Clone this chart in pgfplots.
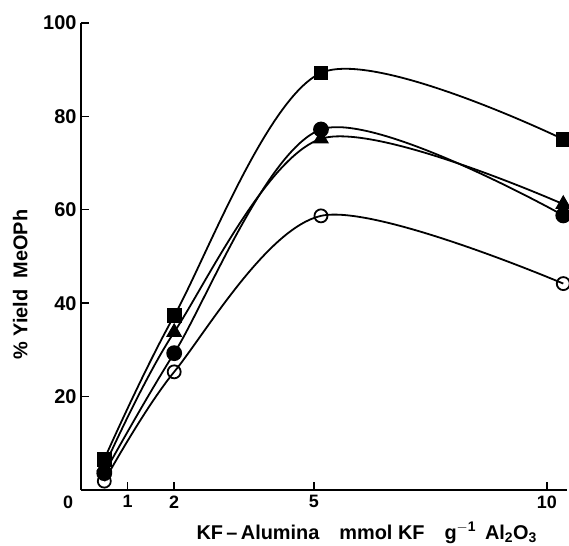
\documentclass[border=0pt]{standalone}
\usepackage{fontspec}
\setmainfont{Liberation Sans}
\usepackage{pgfplots}
\pgfplotsset{compat=1.18}
\begin{document}
\begin{tikzpicture}
\begin{axis}[
  scale only axis,
  width=486bp, height=467bp,
  xmin=0, xmax=10.43, ymin=0, ymax=100,
  axis lines=left,
  axis line style={-, line width=1.6bp},
  xtick={1,2,5,10},
  ytick={20,40,60,80,100},
  extra x ticks={0},
  extra x tick style={major tick length=0pt, tick label style={xshift=-13bp}},
  tick align=inside,
  major tick length=8bp,
  tick style={line width=1.4bp, black},
  /pgf/number format/assume math mode=true,
  xticklabel style={font=\fontsize{18}{20}\selectfont\bfseries, yshift=-2bp},
  yticklabel style={font=\fontsize{20}{22}\selectfont\bfseries, xshift=-1bp},
  xlabel={KF\,--\,Alumina\quad mmol KF\quad g$^{\mathbf{-1}}$\, Al$_{\mathbf 2}$O$_{\mathbf 3}$},
  ylabel={\% Yield\ \ MeOPh},
  xlabel style={font=\fontsize{20}{22}\selectfont\bfseries, at={(axis description cs:0.588,-0.092)}, anchor=center},
  ylabel style={font=\fontsize{20}{22}\selectfont\bfseries, at={(axis description cs:-0.125,0.44)}, anchor=center},
  clip=false,
  every axis plot/.append style={black, line width=1.8bp, smooth, tension=0.5},
]
\coordinate (sw) at (rel axis cs:0,0);
\coordinate (ne) at (rel axis cs:1,1);
\addplot[mark=square*, mark size=6.5bp, mark options={solid, fill=black}] coordinates {
  (0.5,6.6) (2,37.3) (5.15,89.3) (10.35,75.1)};
\addplot[mark=triangle*, mark size=7.5bp, mark options={solid, fill=black}] coordinates {
  (0.5,5.0) (2,33.8) (5.15,75.2) (10.35,61.2)};
\addplot[mark=*, mark size=7bp, mark options={solid, fill=black}] coordinates {
  (0.5,3.6) (2,29.3) (5.15,77.2) (10.35,58.8)};
\addplot[mark=o, mark size=6.5bp, mark options={solid, fill=white, line width=1.8bp}] coordinates {
  (0.5,1.9) (2,25.3) (5.15,58.7) (10.35,44.2)};
\end{axis}
\pgfresetboundingbox
\useasboundingbox ([shift={(-81bp,-56bp)}]sw) rectangle ([shift={(2bp,23bp)}]ne);
\end{tikzpicture}
\end{document}
